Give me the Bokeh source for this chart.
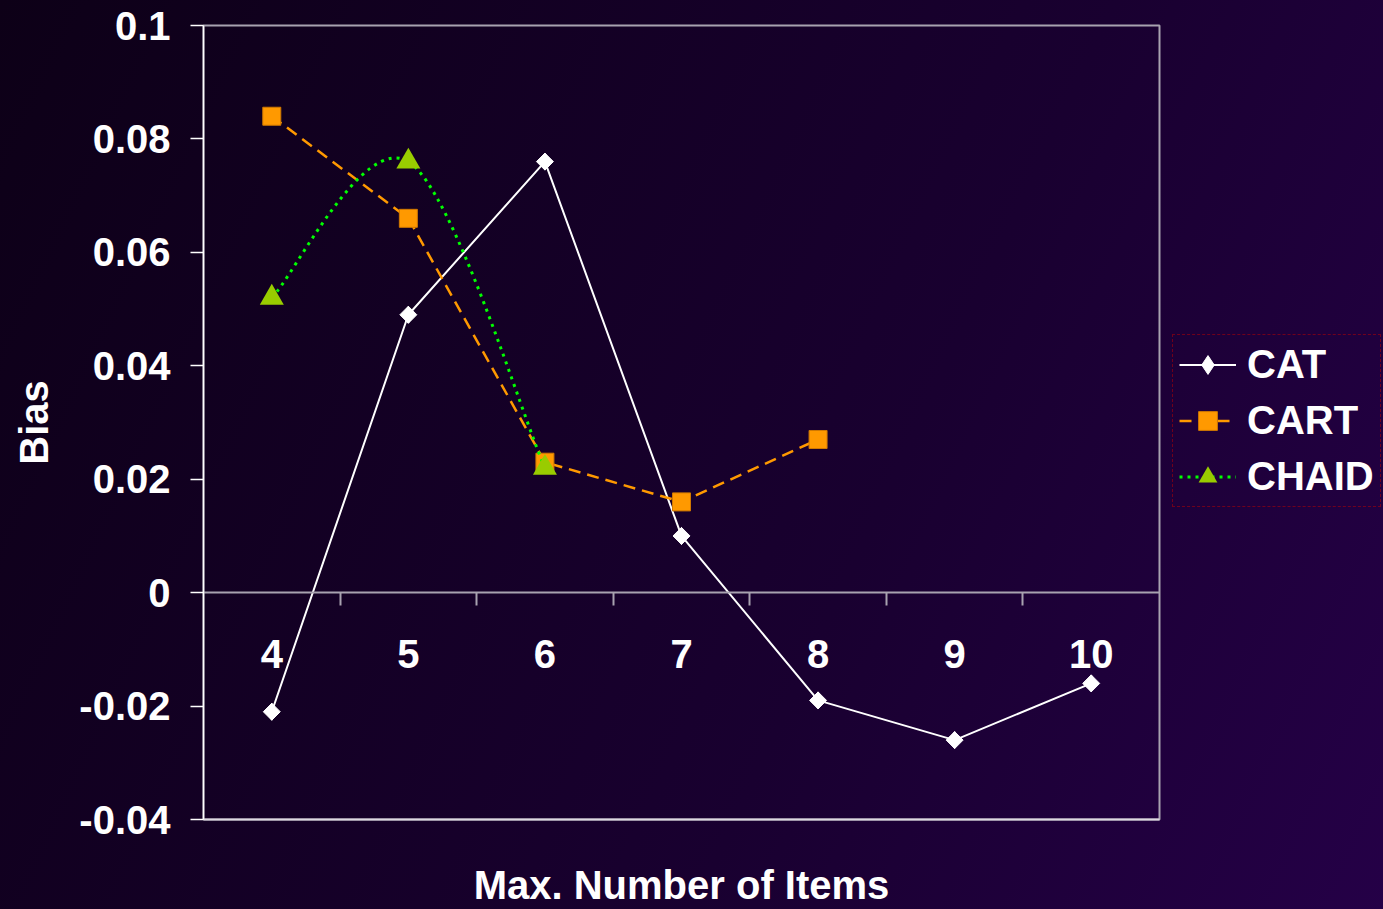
import numpy as np
from bokeh.plotting import figure
from bokeh.models import Range1d, LinearAxis, FixedTicker, Legend, LegendItem
from bokeh.embed import file_html
from bokeh.resources import INLINE

# ---- data ----
items = [4, 5, 6, 7, 8, 9, 10]
x_tick_labels = ["4", "5", "6", "7", "8", "9", "10"]
cat_bias = [-0.021, 0.049, 0.076, 0.010, -0.019, -0.026, -0.016]
cart_items = [4, 5, 6, 7, 8]
cart_bias = [0.084, 0.066, 0.023, 0.016, 0.027]
chaid_items = [4, 5, 6]
chaid_bias = [0.052, 0.076, 0.022]
y_ticks = [-0.04, -0.02, 0.0, 0.02, 0.04, 0.06, 0.08, 0.1]
y_tick_labels = ["-0.04", "-0.02", "0", "0.02", "0.04", "0.06", "0.08", "0.1"]

FONT = "Liberation Sans"
FS = "40px"

p = figure(frame_width=956, frame_height=794,
           x_range=Range1d(items[0] - 0.5, items[-1] + 0.5),
           y_range=Range1d(y_ticks[0], y_ticks[-1]),
           x_axis_type=None,
           output_backend="svg", toolbar_location=None,
           min_border_left=203, min_border_right=224,
           min_border_top=25, min_border_bottom=90,
           styles={"background": "linear-gradient(115deg, #0d0017 0%, #190030 50%, #2c0055 100%)"})
p.border_fill_color = None
p.background_fill_color = None
p.outline_line_color = "#a8a2b0"
p.outline_line_width = 2
p.xgrid.visible = False
p.ygrid.visible = False

# y axis
ya = p.yaxis[0]
ya.ticker = FixedTicker(ticks=y_ticks)
ya.major_label_overrides = dict(zip(y_ticks, y_tick_labels))
ya.axis_line_color = "white"
ya.axis_line_width = 1.5
ya.major_tick_line_color = "white"
ya.major_tick_line_width = 1.5
ya.major_tick_out = 13
ya.major_tick_in = 0
ya.minor_tick_line_color = None
ya.major_label_standoff = 20
ya.major_label_text_font = FONT
ya.major_label_text_font_style = "bold"
ya.major_label_text_font_size = FS
ya.major_label_text_color = "white"
ya.axis_label = "Bias"
ya.axis_label_standoff = 20
ya.axis_label_text_font = FONT
ya.axis_label_text_font_style = "bold"
ya.axis_label_text_font_size = FS
ya.axis_label_text_color = "white"

# bottom axis: frame line + title
ax_title = LinearAxis(ticker=FixedTicker(ticks=[]),
                      axis_line_color="#dcd8e0", axis_line_width=2,
                      major_tick_line_color=None, minor_tick_line_color=None,
                      major_tick_out=0, major_tick_in=0, major_label_standoff=0,
                      axis_label="Max. Number of Items", axis_label_standoff=43,
                      axis_label_text_font=FONT, axis_label_text_font_style="bold",
                      axis_label_text_font_size=FS, axis_label_text_color="white")
p.add_layout(ax_title, "below")

# zero line with boundary ticks
boundaries = [(a + b) / 2 for a, b in zip(items[:-1], items[1:])]
ax_ticks = LinearAxis(fixed_location=0, ticker=FixedTicker(ticks=boundaries),
                      axis_line_color="#a8a2b0", axis_line_width=2,
                      major_tick_line_color="#a8a2b0", major_tick_line_width=2,
                      major_tick_out=13, major_tick_in=0,
                      minor_tick_line_color=None, major_label_text_color=None)
p.add_layout(ax_ticks, "below")

# category labels under zero line
ax_labels = LinearAxis(fixed_location=0, ticker=FixedTicker(ticks=items),
                       major_label_overrides=dict(zip(items, x_tick_labels)),
                       axis_line_color=None, major_tick_line_color=None,
                       minor_tick_line_color=None, major_tick_out=0, major_tick_in=0,
                       major_label_standoff=47,
                       major_label_text_font=FONT, major_label_text_font_style="bold",
                       major_label_text_font_size=FS, major_label_text_color="white")
p.add_layout(ax_labels, "below")

# CAT
r_cat_line = p.line(items, cat_bias, line_color="white", line_width=2)
r_cat_pts = p.scatter(items, cat_bias, marker="diamond", size=17,
                      fill_color="white", line_color="white")
p.scatter(items, cat_bias, marker="square", angle=np.pi / 4, size=12,
          fill_color="white", line_color="white")

# CART
r_cart_line = p.line(cart_items, cart_bias, line_color="#ff9900", line_width=2.5, line_dash="12 7")
r_cart_pts = p.scatter(cart_items, cart_bias, marker="square", size=18,
                       fill_color="#ff9900", line_color="#d07800", line_width=1)

# CHAID smoothed curve (Catmull-Rom style bezier through the data points)
cx = np.array(chaid_items, dtype=float)
cy = np.array(chaid_bias, dtype=float)
px = np.concatenate([[cx[0]], cx, [cx[-1]]])
py = np.concatenate([[cy[0]], cy, [cy[-1]]])
n = len(cx)
bx0, by0, bx1, by1, c0x, c0y, c1x, c1y = [], [], [], [], [], [], [], []
for i in range(n - 1):
    j = i + 1
    bx0.append(px[j]); by0.append(py[j])
    bx1.append(px[j + 1]); by1.append(py[j + 1])
    c0x.append(px[j] + (px[j + 1] - px[j - 1]) / 6); c0y.append(py[j] + (py[j + 1] - py[j - 1]) / 6)
    c1x.append(px[j + 1] - (px[j + 2] - px[j]) / 6); c1y.append(py[j + 1] - (py[j + 2] - py[j]) / 6)
r_chaid_curve = p.bezier(x0=bx0, y0=by0, x1=bx1, y1=by1, cx0=c0x, cy0=c0y, cx1=c1x, cy1=c1y,
                         line_color="#00ff00", line_width=3, line_dash="3 5")
r_chaid_pts = p.scatter(chaid_items, chaid_bias, marker="triangle", size=24,
                        fill_color="#99cc00", line_color=None)

legend = Legend(items=[LegendItem(label="CAT", renderers=[r_cat_line, r_cat_pts]),
                       LegendItem(label="CART", renderers=[r_cart_line, r_cart_pts]),
                       LegendItem(label="CHAID", renderers=[r_chaid_curve, r_chaid_pts])],
                location=(13, 312),
                label_text_font=FONT, label_text_font_style="bold",
                label_text_font_size=FS, label_text_color="white",
                glyph_width=57, glyph_height=47, label_height=47,
                spacing=9, padding=6, label_standoff=11, margin=0,
                background_fill_color=None,
                border_line_color="#c00000", border_line_dash="2 2", border_line_width=1)
p.add_layout(legend, "right")

open("out.html", "w").write(file_html(p, INLINE))
